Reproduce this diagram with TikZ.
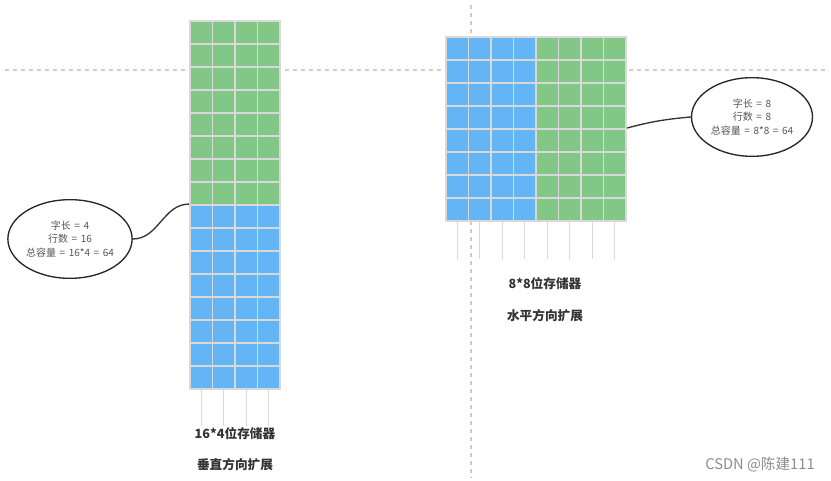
\documentclass[tikz,border=0pt]{standalone}
\usepackage{fontspec}
\setmainfont{Noto Sans CJK SC}
\newfontfamily\notefont[WordSpace=1.6]{Noto Sans CJK SC}
\usetikzlibrary{positioning,shapes.geometric}

\definecolor{cellgreen}{HTML}{82C785}
\definecolor{cellblue}{HTML}{64B5F6}
\definecolor{cellline}{HTML}{D9D9D9}
\definecolor{guideline}{HTML}{CCCCCC}
\definecolor{notetext}{HTML}{555555}
\definecolor{labeltext}{HTML}{333333}

\begin{document}
\begin{tikzpicture}[
    x=0.75pt,
    y=-0.75pt,
    cell/.style={rectangle,draw=cellline,line width=1.4pt,inner sep=0pt,minimum width=16.9pt,minimum height=17.25pt},
    pin line/.style={draw=cellline,line width=1.1pt},
    guide/.style={draw=guideline,line width=0.8pt,dash pattern=on 3pt off 3pt},
    note/.style={ellipse,draw=black!85,line width=1pt,fill=white,minimum width=90.75pt,minimum height=59pt,inner sep=0pt,align=center,font=\notefont\fontsize{7.5}{10}\selectfont,text=notetext},
    title label/.style={font=\fontsize{9.5}{11}\selectfont\bfseries,text=labeltext},
    link/.style={draw=black!80,line width=1pt}
]
\useasboundingbox (0,0) rectangle (831,481);

% Hilfslinien
\coordinate (hstart) at (5,70);
\coordinate (hend) at (826,70);
\coordinate (vstart) at (471,5);
\coordinate (vend) at (471,478);
\draw[guide] (hstart) -- (hend);
\draw[guide] (vstart) -- (vend);

% 16*4 Speicher (links)
\foreach \r in {1,...,8}
  \foreach \c in {1,...,4}
    \node[cell,fill=cellgreen] (L\r-\c) at ({190+(\c-0.5)*22.5},{21+(\r-0.5)*23}) {};
\foreach \r in {9,...,16}
  \foreach \c in {1,...,4}
    \node[cell,fill=cellblue] (L\r-\c) at ({190+(\c-0.5)*22.5},{21+(\r-0.5)*23}) {};
\foreach \c in {1,...,4}
  \draw[pin line] (L16-\c.south) -- ++(0,36);

% 8*8 Speicher (rechts)
\foreach \r in {1,...,8}
  \foreach \c in {1,...,4}
    \node[cell,fill=cellblue] (R\r-\c) at ({446+(\c-0.5)*22.5},{37+(\r-0.5)*23}) {};
\foreach \r in {1,...,8}
  \foreach \c in {5,...,8}
    \node[cell,fill=cellgreen] (R\r-\c) at ({446+(\c-0.5)*22.5},{37+(\r-0.5)*23}) {};
\foreach \c in {1,...,8}
  \draw[pin line] (R8-\c.south) -- ++(0,37);

% Notizen
\node[note] (leftnote) at (70,239) {字长 = 4\\行数 = 16\\总容量 = 16*4 = 64};
\node[note] (rightnote) at (752,117) {字长 = 8\\行数 = 8\\总容量 = 8*8 = 64};
\draw[link] (leftnote.east) to[out=0,in=180] (L9-1.north west);
\draw[link] (R5-8.north east) to[out=15,in=185] (rightnote.west);

% Beschriftungen
\node[title label] (leftname) at (235,434) {16*4位存储器};
\node[title label] (leftmode) at (235,465) {垂直方向扩展};
\node[title label] (rightname) at (545,284) {8*8位存储器};
\node[title label] (rightmode) at (545,316) {水平方向扩展};

% Wasserzeichen
\node[font=\fontsize{11}{13}\selectfont,text=black!45] (mark) at (760,465) {CSDN @陈建111};

\end{tikzpicture}
\end{document}
